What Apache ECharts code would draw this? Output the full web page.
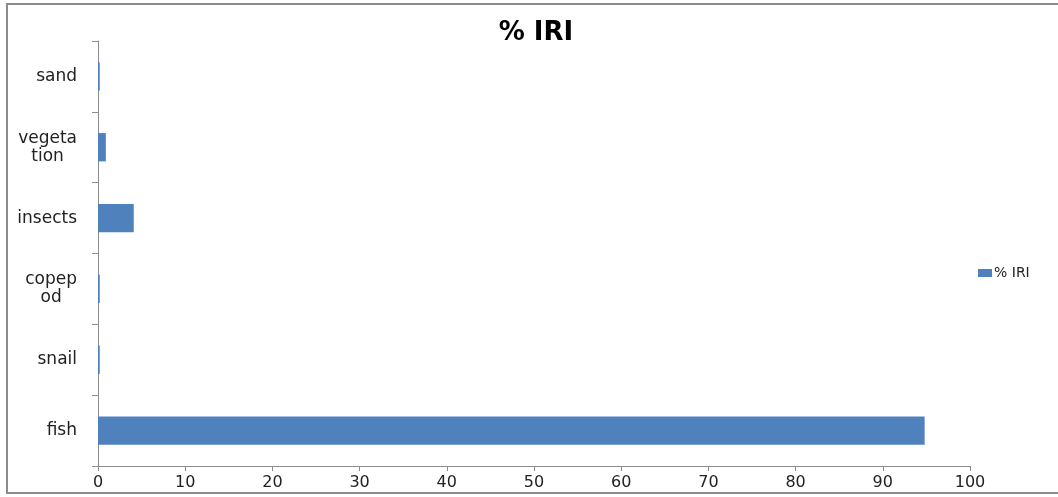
<!DOCTYPE html>
<html>
<head>
<meta charset="utf-8">
<title>% IRI</title>
<script src="https://cdn.jsdelivr.net/npm/echarts@6/dist/echarts.min.js"></script>
<style>
  html, body { margin: 0; padding: 0; background: #ffffff; }
  #chart { width: 1058px; height: 497px; }
</style>
</head>
<body>
<div id="chart"></div>
<script>
// Prey categories, listed bottom to top
const categories = ['fish', 'snail', 'copep\nod', 'insects', 'vegeta\ntion', 'sand'];
// Index of relative importance (%) for each prey category
const iriValues = [94.8, 0.2, 0.2, 4.1, 0.9, 0.2];
const seriesName = '% IRI';
const xTicks = { min: 0, max: 100, interval: 10 };

const chart = echarts.init(document.getElementById('chart'));
const axisGray = '#8c8c8c';
const labelFont = "'DejaVu Sans', sans-serif";

chart.setOption({
  animation: false,
  backgroundColor: '#ffffff',
  title: {
    text: '% IRI',
    left: 536,
    top: 20,
    padding: 0,
    textAlign: 'center',
    textStyle: {
      fontFamily: labelFont,
      fontWeight: 'bold',
      fontSize: 26,
      color: '#000000'
    }
  },
  legend: {
    data: [seriesName],
    orient: 'vertical',
    left: 978,
    top: 266,
    padding: 0,
    icon: 'rect',
    itemWidth: 14,
    itemHeight: 8,
    itemGap: 4,
    textStyle: {
      fontFamily: labelFont,
      fontSize: 14,
      color: '#222222',
      padding: [0, 0, 0, -3]
    }
  },
  grid: {
    left: 98,
    right: 88,
    top: 41,
    bottom: 31,
    containLabel: false
  },
  xAxis: {
    type: 'value',
    min: xTicks.min,
    max: xTicks.max,
    interval: xTicks.interval,
    axisLine: { show: true, lineStyle: { color: axisGray, width: 1 } },
    axisTick: { show: true, length: 5, lineStyle: { color: axisGray } },
    splitLine: { show: false },
    axisLabel: {
      margin: 9,
      fontFamily: labelFont,
      fontSize: 16,
      color: '#222222'
    }
  },
  yAxis: {
    type: 'category',
    data: categories,
    axisLine: { show: true, lineStyle: { color: axisGray, width: 1 } },
    axisTick: { show: true, length: 6, alignWithLabel: false, lineStyle: { color: axisGray } },
    axisLabel: {
      margin: 21,
      fontFamily: labelFont,
      fontSize: 17,
      lineHeight: 18,
      color: '#222222',
      formatter: function (v) {
        return v.split('\n').map(function (s) { return '{c|' + s + '}'; }).join('\n');
      },
      rich: {
        c: {
          align: 'center',
          fontFamily: labelFont,
          fontSize: 17,
          lineHeight: 18,
          color: '#222222'
        }
      }
    }
  },
  series: [{
    name: seriesName,
    type: 'bar',
    data: iriValues,
    barCategoryGap: '60%',
    itemStyle: { color: '#4f81bd' }
  }],
  graphic: [{
    type: 'rect',
    silent: true,
    shape: { x: 7, y: 4, width: 1120, height: 489 },
    style: { fill: 'none', stroke: '#8c8c8c', lineWidth: 2 }
  }]
});
</script>
</body>
</html>
